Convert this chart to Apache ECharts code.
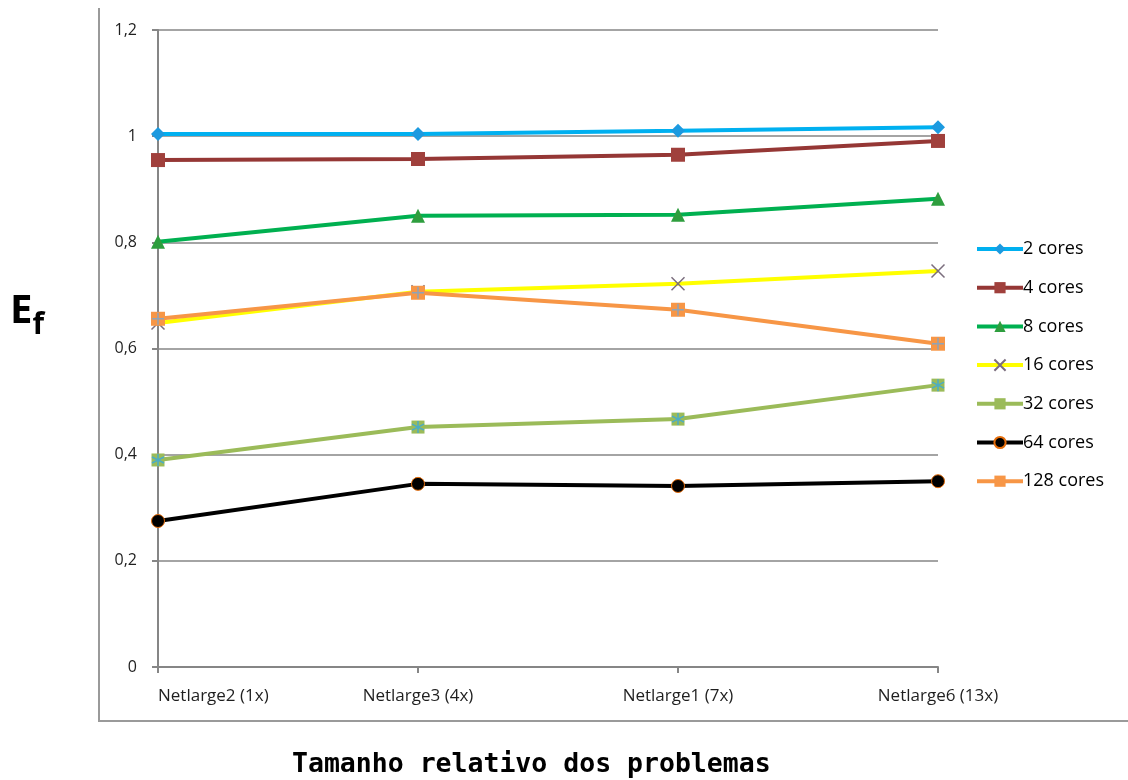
<!DOCTYPE html>
<html>
<head>
<meta charset="utf-8">
<script src="https://cdn.jsdelivr.net/npm/echarts@6/dist/echarts.min.js"></script>
<style>
  html, body { margin: 0; padding: 0; background: #fff; }
  #chart { width: 1128px; height: 780px; }
</style>
</head>
<body>
<div id="chart"></div>
<script>
// Problem sizes (x axis categories)
const categories = ['Netlarge2 (1x)', 'Netlarge3 (4x)', 'Netlarge1 (7x)', 'Netlarge6 (13x)'];

// Efficiency per core count
const cores2   = [1.004, 1.004, 1.010, 1.017];
const cores4   = [0.955, 0.957, 0.965, 0.991];
const cores8   = [0.801, 0.850, 0.852, 0.882];
const cores16  = [0.648, 0.707, 0.722, 0.746];
const cores32  = [0.390, 0.452, 0.467, 0.531];
const cores64  = [0.275, 0.345, 0.341, 0.350];
const cores128 = [0.656, 0.705, 0.673, 0.609];

const seriesNames = ['2 cores', '4 cores', '8 cores', '16 cores', '32 cores', '64 cores', '128 cores'];

// Y tick labels use a decimal comma
const fmtTick = v => (Math.round(v * 10) / 10).toString().replace('.', ',');

const FONT = '"Open Sans", "Noto Sans", sans-serif';

const xShape = 'path://M0,0L10,10M10,0L0,10';
const starShape = 'path://M5,0L5,10M0,2.5L10,7.5M10,2.5L0,7.5';
const plusShape = 'path://M5,0L5,10M0,5L10,5';

function lineSeries(name, data, color, symbol, size, itemStyle) {
  return {
    name, type: 'line', data,
    symbol, symbolSize: size,
    lineStyle: { color, width: 4 },
    itemStyle: Object.assign({ color }, itemStyle || {}),
    z: 2
  };
}

function overlay(name, data, symbol, borderColor) {
  return {
    name, type: 'line', data,
    symbol, symbolSize: 12,
    lineStyle: { opacity: 0 },
    itemStyle: { color: 'transparent', borderColor, borderWidth: 1.5 },
    silent: true, z: 4
  };
}

const chart = echarts.init(document.getElementById('chart'));
chart.setOption({
  backgroundColor: '#fff',
  animation: false,
  grid: { left: 158, right: 190, top: 30, bottom: 113 },
  legend: {
    data: seriesNames,
    orient: 'vertical',
    left: 970, top: 235,
    itemWidth: 46, itemHeight: 14, itemGap: 20.7,
    lineStyle: { width: 4 },
    textStyle: { fontFamily: FONT, fontSize: 18, color: '#000', padding: [0, 0, 0, -5] }
  },
  xAxis: {
    type: 'category', data: categories, boundaryGap: false,
    axisLine: { lineStyle: { color: '#868686', width: 2 } },
    axisTick: { show: true, length: 6, lineStyle: { color: '#868686', width: 2 } },
    axisLabel: { fontFamily: FONT, fontSize: 17, color: '#1f1f1f', margin: 21, alignMinLabel: 'left' },
    splitLine: { show: false }
  },
  yAxis: {
    type: 'value', min: 0, max: 1.2, interval: 0.2,
    axisLine: { show: true, lineStyle: { color: '#868686', width: 2 } },
    axisTick: { show: true, length: 6, lineStyle: { color: '#868686', width: 2 } },
    axisLabel: { fontFamily: FONT, fontSize: 16, color: '#1f1f1f', margin: 21, formatter: fmtTick },
    splitLine: { lineStyle: { color: '#868686', width: 1.5 } }
  },
  series: [
    lineSeries('2 cores', cores2, '#00B0F0', 'diamond', 14, { color: '#1C9AE0' }),
    lineSeries('4 cores', cores4, '#953735', 'rect', 14, { color: '#A0403C' }),
    lineSeries('8 cores', cores8, '#00B050', 'triangle', 14, { color: '#2E9E3E' }),
    lineSeries('16 cores', cores16, '#FFFF00', xShape, 13, { color: 'transparent', borderColor: '#7B6E7E', borderWidth: 1.5 }),
    lineSeries('32 cores', cores32, '#9BBB59', 'rect', 13, { color: '#9BBB59' }),
    lineSeries('64 cores', cores64, '#000000', 'circle', 13, { color: '#000', borderColor: '#E46C0A', borderWidth: 1 }),
    lineSeries('128 cores', cores128, '#F79646', 'rect', 14, { color: '#F79646' }),
    overlay('32 cores marks', cores32, starShape, '#4BACC6'),
    overlay('128 cores marks', cores128, plusShape, '#8EA3B8')
  ],
  graphic: [
    // frame lines on the left and bottom
    { type: 'line', shape: { x1: 99, y1: 8, x2: 99, y2: 721 }, style: { stroke: '#9a9a9a', lineWidth: 2 } },
    { type: 'line', shape: { x1: 98, y1: 721, x2: 1128, y2: 721 }, style: { stroke: '#9a9a9a', lineWidth: 2 } },
    // y axis title E with subscript f
    {
      type: 'text', left: 10, top: 292,
      style: {
        text: '{e|E}{f|f}',
        rich: {
          e: { fontFamily: FONT, fontWeight: 'bold', fontSize: 40, fill: '#000' },
          f: { fontFamily: FONT, fontWeight: 'bold', fontSize: 30, fill: '#000', padding: [26, 0, 0, 0] }
        }
      }
    },
    // x axis title
    {
      type: 'text', left: 292, top: 752,
      style: {
        text: 'Tamanho relativo dos problemas',
        fontFamily: '"DejaVu Sans Mono", "Liberation Mono", monospace',
        fontWeight: 'bold', fontSize: 26.5, fill: '#000'
      }
    }
  ]
});
</script>
</body>
</html>
